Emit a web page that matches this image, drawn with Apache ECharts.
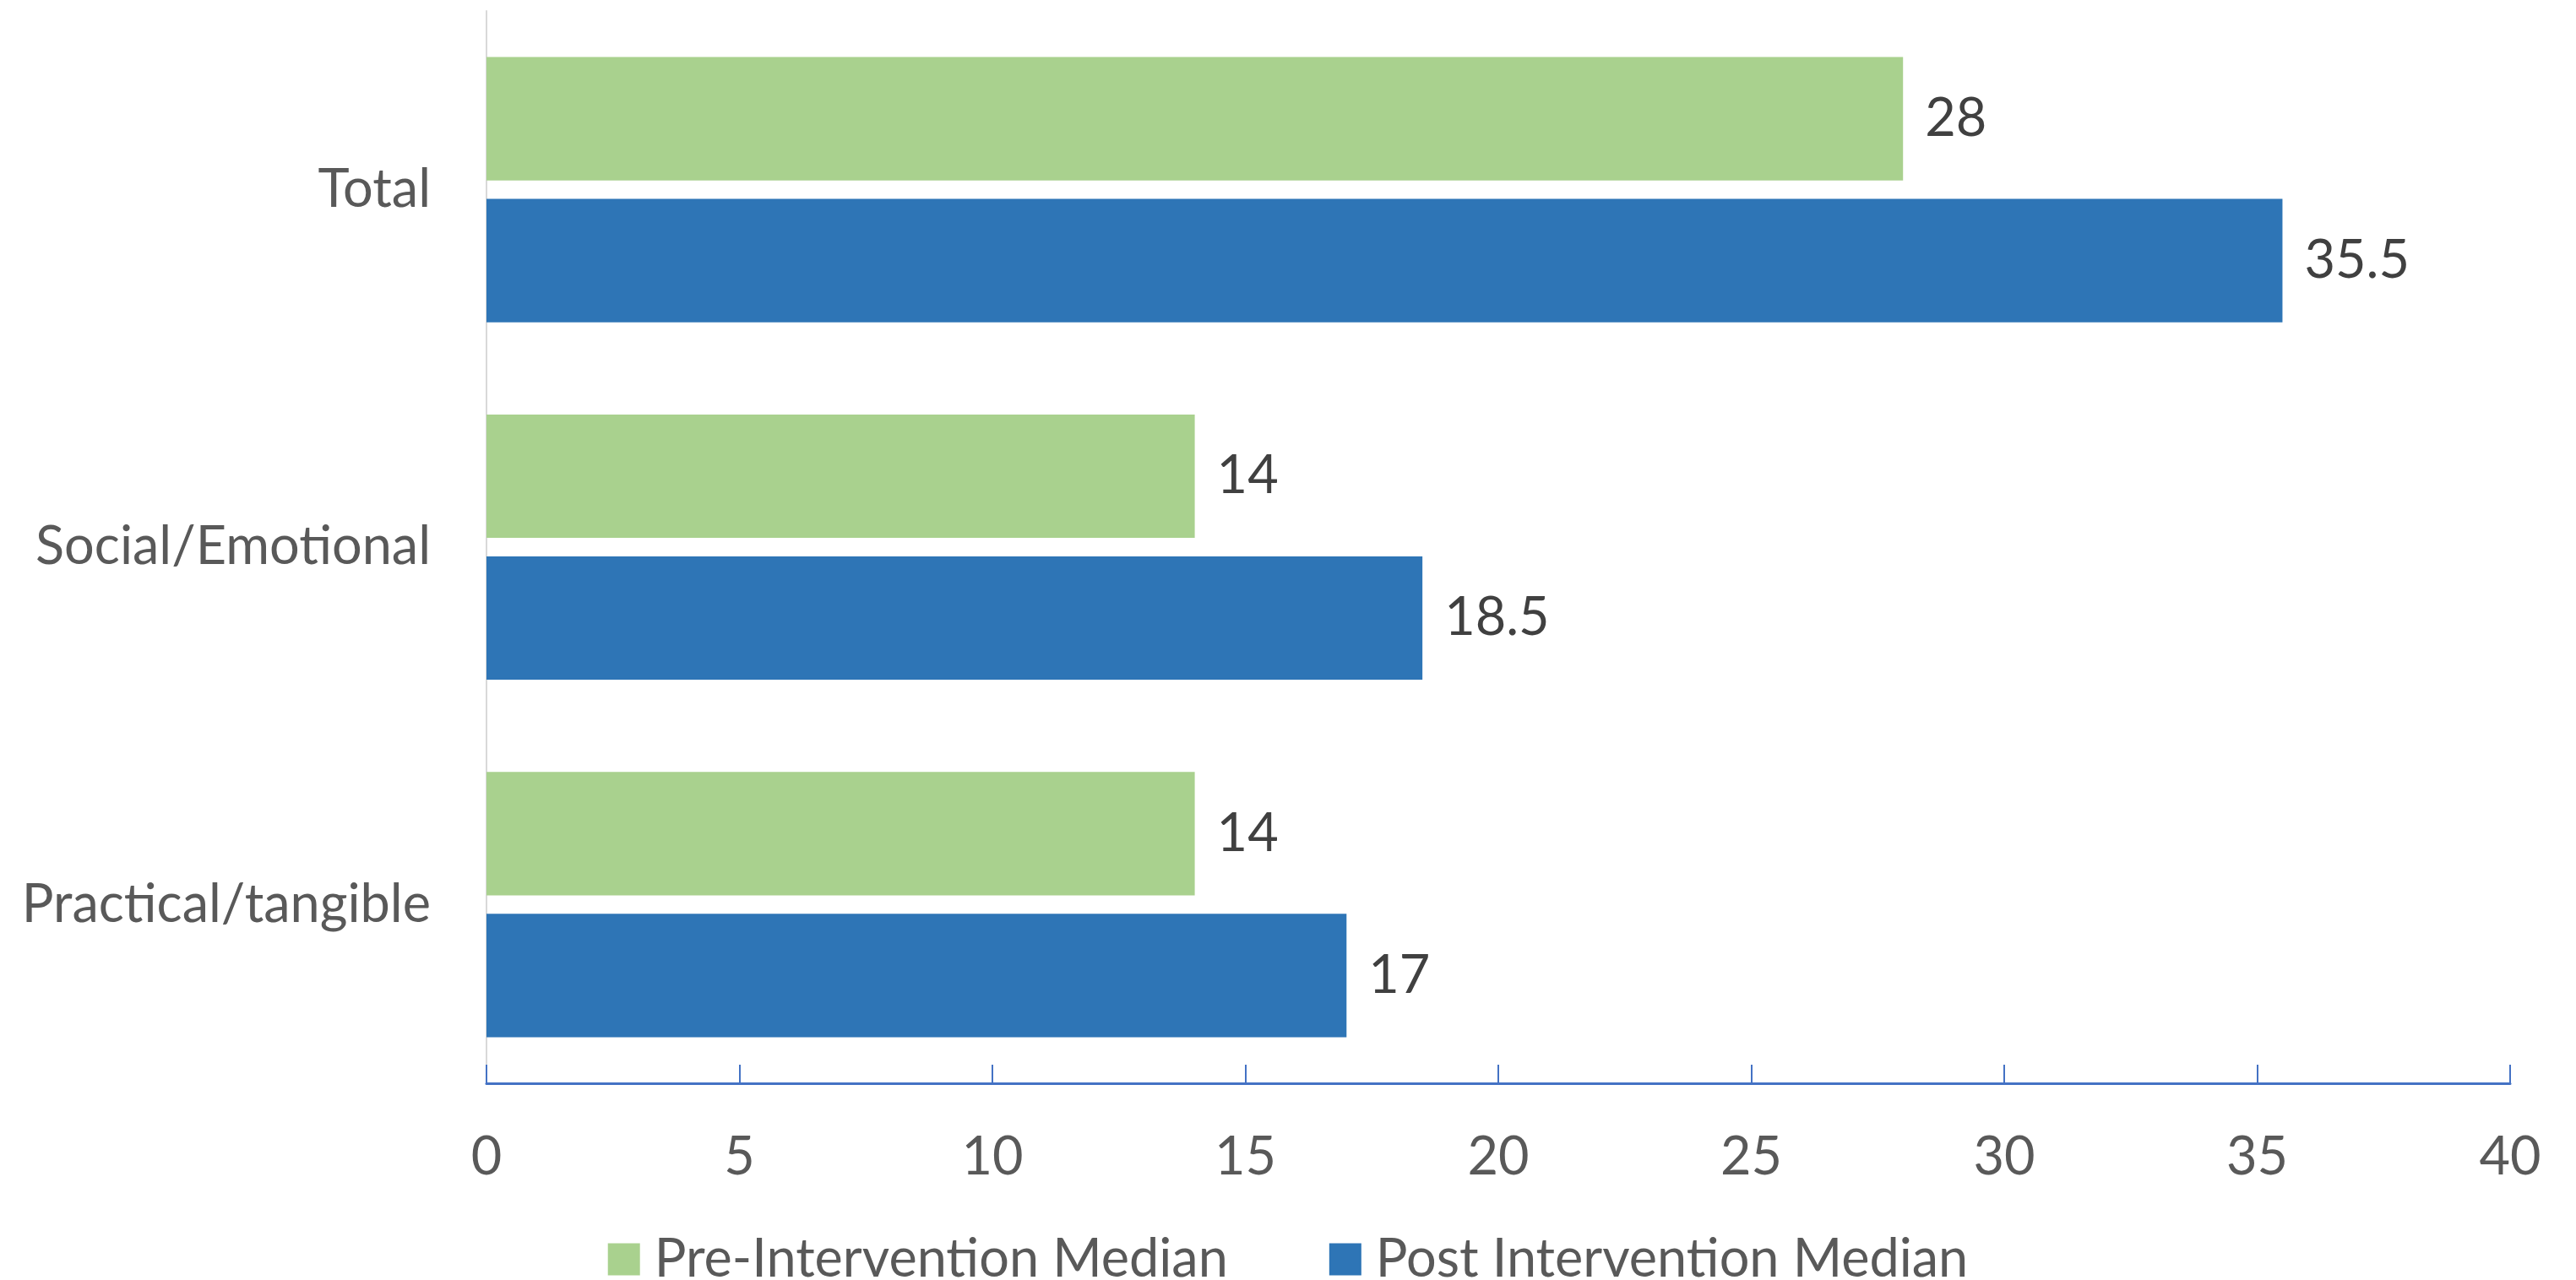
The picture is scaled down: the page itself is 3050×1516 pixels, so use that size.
<!DOCTYPE html>
<html>
<head>
<meta charset="utf-8">
<script src="https://cdn.jsdelivr.net/npm/echarts@6/dist/echarts.min.js"></script>
<style>
html,body{margin:0;padding:0;background:#fff;}
#chart{width:3050px;height:1516px;}
</style>
</head>
<body>
<div id="chart"></div>
<script>
const categories = ['Total', 'Social/Emotional', 'Practical/tangible'];
const preMedian = [28, 14, 14];
const postMedian = [35.5, 18.5, 17];
const seriesNames = ['Pre-Intervention Median', 'Post Intervention Median'];
const xTicks = {min: 0, max: 40, interval: 5};

const FONT = 'Lato';
const chart = echarts.init(document.getElementById('chart'));
chart.setOption({
  animation: false,
  backgroundColor: '#ffffff',
  grid: {left: 576, right: 78, top: 13, bottom: 233, containLabel: false},
  legend: {
    bottom: -12,
    left: 'center',
    itemWidth: 38,
    itemHeight: 38,
    itemGap: 120,
    icon: 'rect',
    textStyle: {fontFamily: FONT, fontSize: 63, color: '#595959', padding: [0, 0, 0, 12]},
    data: seriesNames
  },
  xAxis: {
    type: 'value',
    min: xTicks.min, max: xTicks.max, interval: xTicks.interval,
    axisLine: {show: true, lineStyle: {color: '#4472C4', width: 3}},
    axisTick: {show: true, inside: true, length: 22, lineStyle: {color: '#4472C4', width: 2}},
    splitLine: {show: false},
    axisLabel: {fontFamily: FONT, fontSize: 63, color: '#595959', margin: 56}
  },
  yAxis: {
    type: 'category',
    inverse: true,
    data: categories,
    axisLine: {show: true, lineStyle: {color: '#D9D9D9', width: 2}},
    axisTick: {show: false},
    axisLabel: {fontFamily: FONT, fontSize: 63, color: '#595959', margin: 66}
  },
  series: [
    {
      name: seriesNames[0], type: 'bar', data: preMedian,
      barGap: '15%', barCategoryGap: '25.8%',
      itemStyle: {color: '#A9D18E'},
      label: {show: true, position: 'right', distance: 26, fontFamily: FONT, fontSize: 63, color: '#404040'}
    },
    {
      name: seriesNames[1], type: 'bar', data: postMedian,
      barGap: '15%', barCategoryGap: '25.8%',
      itemStyle: {color: '#2E75B6'},
      label: {show: true, position: 'right', distance: 26, fontFamily: FONT, fontSize: 63, color: '#404040'}
    }
  ]
});
</script>
</body>
</html>
